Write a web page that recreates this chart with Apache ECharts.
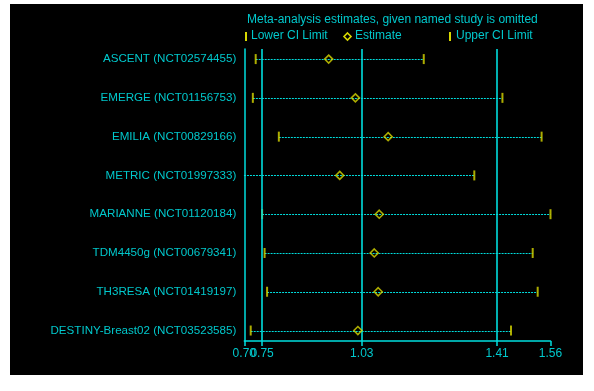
<!DOCTYPE html>
<html>
<head>
<meta charset="utf-8">
<script src="https://cdn.jsdelivr.net/npm/echarts@6/dist/echarts.min.js"></script>
<style>
  html, body { margin: 0; padding: 0; background: #ffffff; }
  #chart { width: 594px; height: 391px; }
</style>
</head>
<body>
<div id="chart"></div>
<script>
// Leave-one-out meta-analysis: pooled estimate with each named study omitted
const studies = [
  'ASCENT (NCT02574455)',
  'EMERGE (NCT01156753)',
  'EMILIA (NCT00829166)',
  'METRIC (NCT01997333)',
  'MARIANNE (NCT01120184)',
  'TDM4450g (NCT00679341)',
  'TH3RESA (NCT01419197)',
  'DESTINY-Breast02 (NCT03523585)'
];
const lowerCI  = [0.732, 0.724, 0.797, 0.699, 0.750, 0.757, 0.764, 0.718];
const estimate = [0.937, 1.012, 1.104, 0.968, 1.079, 1.065, 1.076, 1.019];
const upperCI  = [1.204, 1.425, 1.535, 1.346, 1.560, 1.510, 1.524, 1.449];

// Axis tick values and reference lines (pooled lower CI, estimate, upper CI)
const xTicks = [0.70, 0.75, 1.03, 1.41, 1.56];
const xTicksMain = [0.70, 1.03, 1.41, 1.56];
const xTicksNear = [0.75];
const refLines = [0.75, 1.03, 1.41];

const CYAN = '#00dede';
const CYAN_TXT = '#00c8cc';
const YELLOW = '#d8d800';
const FONT = '"Liberation Sans", Arial, sans-serif';
const X_MIN = 0.70, X_MAX = 1.56;

const rowIdx = studies.map((_, i) => i);
const intervalData = rowIdx.map(i => [lowerCI[i], upperCI[i], i]);
const lowerData = rowIdx.map(i => [lowerCI[i], i]);
const upperData = rowIdx.map(i => [upperCI[i], i]);
const estData = rowIdx.map(i => [estimate[i], i]);

const chart = echarts.init(document.getElementById('chart'), null, { renderer: 'canvas' });

const xLabelStyle = { color: CYAN_TXT, fontSize: 12, margin: 7, fontFamily: FONT,
                      showMinLabel: true, showMaxLabel: true, hideOverlap: false,
                      formatter: v => v.toFixed(2) };

chart.setOption({
  backgroundColor: '#ffffff',
  animation: false,
  textStyle: { fontFamily: FONT },
  graphic: [
    { type: 'rect', z: -10, silent: true,
      shape: { x: 10, y: 4, width: 573, height: 371 },
      style: { fill: '#000000' } },
    { type: 'text', left: 247, top: 14,
      style: { text: 'Meta-analysis estimates, given named study is omitted',
               fill: CYAN_TXT, font: '12px ' + FONT } },
    { type: 'rect', shape: { x: 245, y: 32, width: 2, height: 9 }, style: { fill: YELLOW } },
    { type: 'text', left: 251, top: 30,
      style: { text: 'Lower CI Limit', fill: CYAN_TXT, font: '12px ' + FONT } },
    { type: 'polygon', shape: { points: [[347.5, 33], [351, 36.5], [347.5, 40], [344, 36.5]] },
      style: { fill: 'none', stroke: YELLOW, lineWidth: 1.6 } },
    { type: 'text', left: 355, top: 30,
      style: { text: 'Estimate', fill: CYAN_TXT, font: '12px ' + FONT } },
    { type: 'rect', shape: { x: 449, y: 32, width: 2, height: 9 }, style: { fill: YELLOW } },
    { type: 'text', left: 456, top: 30,
      style: { text: 'Upper CI Limit', fill: CYAN_TXT, font: '12px ' + FONT } }
  ],
  grid: { left: 244.3, right: 43.5, top: 49, bottom: 50, containLabel: false },
  xAxis: [
    {
      type: 'value',
      min: X_MIN,
      max: X_MAX,
      position: 'bottom',
      axisLine: { show: true, onZero: false, lineStyle: { color: CYAN, width: 1.5 } },
      axisTick: { show: true, customValues: xTicks, length: 5,
                  lineStyle: { color: CYAN, width: 1.5 } },
      axisLabel: Object.assign({ customValues: xTicksMain }, xLabelStyle),
      splitLine: { show: false }
    },
    {
      // second label row on the same scale, so the close 0.75 label is not dropped
      type: 'value',
      min: X_MIN,
      max: X_MAX,
      position: 'bottom',
      offset: 0,
      axisLine: { show: false, onZero: false },
      axisTick: { show: false },
      axisLabel: Object.assign({ customValues: xTicksNear }, xLabelStyle),
      splitLine: { show: false }
    }
  ],
  yAxis: {
    type: 'value',
    inverse: true,
    min: -0.26,
    max: 7.27,
    position: 'left',
    axisLine: { show: true, onZero: false, lineStyle: { color: CYAN, width: 1.5 } },
    axisTick: { show: false },
    axisLabel: { customValues: rowIdx, color: CYAN_TXT, fontSize: 11.6, margin: 8,
                 fontFamily: FONT, hideOverlap: false,
                 formatter: v => studies[Math.round(v)] },
    splitLine: { show: false }
  },
  series: [
    {
      // dotted interval line for each omitted-study estimate
      type: 'custom',
      data: intervalData,
      encode: { x: [0, 1], y: 2 },
      renderItem: (params, api) => {
        const a = api.coord([api.value(0), api.value(2)]);
        const b = api.coord([api.value(1), api.value(2)]);
        const y = Math.round(a[1]) + 0.5;
        return {
          type: 'line',
          shape: { x1: a[0], y1: y, x2: b[0], y2: y },
          style: { stroke: CYAN, lineWidth: 1, lineDash: [2, 1] }
        };
      },
      markLine: {
        silent: true,
        symbol: 'none',
        label: { show: false },
        lineStyle: { color: CYAN, width: 1.6, type: 'solid' },
        data: refLines.map(v => ({ xAxis: v }))
      },
      z: 2
    },
    {
      name: 'Lower CI Limit',
      type: 'scatter',
      data: lowerData,
      symbol: 'rect',
      symbolSize: [2, 10],
      itemStyle: { color: YELLOW },
      z: 4
    },
    {
      name: 'Upper CI Limit',
      type: 'scatter',
      data: upperData,
      symbol: 'rect',
      symbolSize: [2, 10],
      itemStyle: { color: YELLOW },
      z: 4
    },
    {
      name: 'Estimate',
      type: 'scatter',
      data: estData,
      symbol: 'diamond',
      symbolSize: 8,
      itemStyle: { color: 'rgba(0,0,0,0)', borderColor: YELLOW, borderWidth: 1.6 },
      z: 5
    }
  ]
});
</script>
</body>
</html>
